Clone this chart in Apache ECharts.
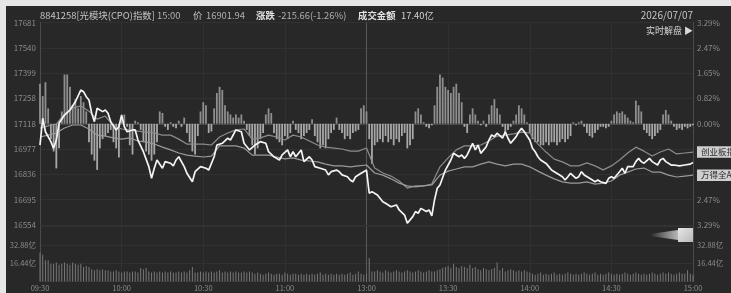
<!DOCTYPE html>
<html>
<head>
<meta charset="utf-8">
<script src="https://cdn.jsdelivr.net/npm/echarts@6/dist/echarts.min.js"></script>
<style>
  html, body { margin: 0; padding: 0; background: #e6e6e6; }
  #chart { width: 731px; height: 293px; }
</style>
</head>
<body>
<div id="chart"></div>
<script>
// 昨收与刻度
const preClose = 17117.6
const pctMax = 3.29
const pctStep = 0.8225
const pctTickLabels = ['3.29%', '2.47%', '1.65%', '0.82%', '0.00%', '', '', '2.47%', '3.29%']
const volTickLabels = ['', '16.44亿', '32.88亿', '']
const timeLabels = ['09:30', '10:00', '10:30', '11:00', '13:00', '13:30', '14:00', '14:30', '15:00']

// 指数分时 [分钟, 点位]
const pricePoints = [
  [0, 16999], [1, 17148], [2, 17073], [4, 17018], [5, 16981], [6, 17027], [7, 17120], [9, 17166],
  [11, 17194], [13, 17240], [15, 17305], [16, 17296], [17, 17268], [18, 17250], [19, 17176], [20, 17129],
  [21, 17204], [23, 17185], [24, 17194], [25, 17176], [26, 17129], [28, 17083], [29, 17101], [30, 17166],
  [31, 17101], [32, 17073], [34, 17083], [35, 17083], [36, 17027], [38, 16962], [40, 16879], [41, 16814],
  [42, 16870], [43, 16916], [45, 16870], [46, 16907], [48, 16898], [49, 16883], [50, 16916], [51, 16934],
  [53, 16879], [54, 16842], [56, 16795], [57, 16851], [59, 16879], [61, 16870], [62, 16860], [64, 16934],
  [65, 16999], [67, 17009], [69, 17037], [70, 17027], [71, 17055], [72, 17083], [74, 17073], [75, 17009],
  [77, 16972], [79, 16999], [81, 17018], [83, 17009], [84, 16962], [86, 16934], [88, 16916], [89, 16944],
  [91, 16972], [92, 16934], [93, 16962], [94, 16934], [96, 16972], [97, 16907], [99, 16934], [100, 16916],
  [101, 16879], [103, 16870], [105, 16860], [106, 16833], [107, 16851], [109, 16860], [110, 16851], [111, 16833],
  [113, 16823], [114, 16805], [115, 16795], [116, 16823], [118, 16842], [119, 16851], [120, 16860], [121, 16731],
  [122, 16740], [124, 16721], [126, 16684], [127, 16675], [129, 16656], [131, 16666], [132, 16638], [134, 16610],
  [135, 16564], [137, 16601], [138, 16629], [139, 16620], [140, 16647], [142, 16629], [143, 16638], [144, 16605],
  [145, 16694], [146, 16759], [147, 16777], [149, 16860], [151, 16916], [152, 16953], [154, 16934], [155, 16944],
  [156, 16925], [157, 16944], [159, 17009], [160, 16972], [161, 16999], [162, 16953], [164, 16990], [165, 17027],
  [166, 17055], [167, 17046], [168, 17065], [170, 17037], [171, 17073], [172, 17037], [173, 17009], [175, 17046],
  [176, 17073], [177, 17092], [178, 17073], [180, 17027], [181, 16981], [182, 16962], [183, 16934], [184, 16916],
  [186, 16897], [187, 16879], [188, 16860], [189, 16851], [191, 16833], [192, 16823], [193, 16805], [194, 16823],
  [195, 16842], [197, 16814], [198, 16823], [199, 16851], [200, 16833], [202, 16814], [203, 16805], [204, 16795],
  [205, 16805], [206, 16795], [208, 16786], [209, 16814], [210, 16823], [211, 16814], [213, 16851], [214, 16870],
  [215, 16842], [216, 16879], [218, 16879], [219, 16907], [220, 16925], [221, 16907], [222, 16898], [224, 16925],
  [225, 16907], [227, 16888], [228, 16916], [229, 16925], [230, 16907], [232, 16888], [233, 16888], [235, 16883],
  [237, 16888], [239, 16893], [240, 16902]
]

// 对比指数涨跌幅(%)，每3分钟一个点
const sampleStep = 3
const cybPct = [
  -0.14, -0.07, -0.01, 0.32, 0.51, 0.58, 0.41, 0.15, 0.25, -0.07,
  -0.17, -0.20, -0.24, -0.27, -0.30, -0.37, -0.37, -0.50, -0.66, -0.66,
  -0.66, -0.69, -0.43, -0.30, -0.20, -0.17, -0.50, -0.46, -0.37, -0.43,
  -0.53, -0.37, -0.43, -0.56, -0.69, -0.76, -0.79, -0.82, -0.89, -0.89,
  -0.79, -1.44, -1.60, -1.70, -1.86, -2.09, -2.02, -2.02, -1.96, -1.40,
  -1.11, -0.85, -0.72, -0.72, -0.69, -0.56, -0.40, -0.37, -0.33, -0.27,
  -0.30, -0.66, -0.92, -1.15, -1.24, -1.37, -1.37, -1.27, -1.37, -1.50,
  -1.37, -1.18, -0.95, -0.76, -0.89, -1.05, -0.92, -0.82, -0.98, -0.95,
  -0.92
]
const wdqaPct = [
  -0.43, -0.37, -0.30, -0.14, -0.04, -0.04, -0.17, -0.37, -0.40, -0.46,
  -0.50, -0.46, -0.56, -0.59, -0.66, -0.76, -0.85, -0.95, -1.02, -1.05,
  -1.08, -1.05, -0.72, -0.72, -0.72, -0.79, -1.02, -1.02, -1.02, -1.08,
  -1.14, -1.11, -1.18, -1.21, -1.24, -1.31, -1.37, -1.37, -1.40, -1.37,
  -1.34, -1.60, -1.67, -1.79, -1.93, -2.02, -2.05, -2.02, -1.99, -1.67,
  -1.54, -1.47, -1.40, -1.40, -1.31, -1.24, -1.31, -1.37, -1.31, -1.31,
  -1.40, -1.54, -1.67, -1.79, -1.89, -1.93, -1.93, -1.89, -1.96, -1.93,
  -1.86, -1.67, -1.57, -1.47, -1.44, -1.57, -1.57, -1.67, -1.73, -1.70,
  -1.67
]

// 每分钟强弱柱(%)
const diffBars = [
  1.3, 0.9, 1.35, 0.5, -0.5, -0.9, -1.45, -0.8, 0.4, 1.6, 1.6, 1.2, 0.6, 0.8, 0.5, 0.9, 0.7, 0.4, -0.6, -1.0,
  -1.2, -1.5, -0.8, -0.5, -0.4, -0.3, -0.2, -0.6, -0.8, -1.1, 0.2, 0.3, -0.1, -0.7, -1.0, 0.1, 0.05, -0.2, -0.6, -0.9,
  -1.0, -1.2, -1.0, -0.6, 0.4, 0.35, -0.1, -0.2, 0.05, -0.1, -0.15, 0.1, -0.1, 0.2, -0.3, -0.6, -0.9, -1.0, -0.4, 0.4,
  0.7, 0.6, -0.3, -0.25, 0.5, 1.0, 1.2, 1.1, 0.6, 0.4, 0.3, 0.2, 0.3, 0.2, 0.3, 0.1, -0.2,
  -0.4, -0.7, -1.0, -0.8, -0.5, -0.3, 0.3, 0.5, 0.35, -0.3, -0.5, -0.6, -0.7, -0.4, -0.5, -0.3, 0.1, -0.2, -0.3, -0.5,
  -0.4, -0.3, -0.2, 0.15, -0.4, -0.6, -0.8, -0.7, -0.8, -0.5, -0.3, -0.2, 0.2, -0.2, -0.3, -0.5, -0.4, -0.5, -0.3, -0.25,
  -0.2, 0.5, 0.6, 0.4,
  -0.5, -1.3, -0.7, -0.6, -0.5, -0.6, -0.4, -0.6, -0.5, -0.7,
  -0.5, -0.6, -0.4, -0.3, -0.8, -0.7, -0.5, 0.4, 0.5, 0.3,
  0.05, -0.1, -0.15, -0.05, 0.6, 1.2, 1.6, 1.5, 1.2, 1.1,
  1.0, 1.2, 1.3, 1.0, 0.7, -0.1, -0.3, 0.3, 0.5, 0.3,
  0.1, -0.05, 0.1, -0.1, 0.3, 0.6, 0.8, 0.5, 0.3, -0.1,
  -0.3, -0.2, -0.1, 0.1, 0.3, 0.6, 0.5, 0.3, 0.05, -0.3,
  -0.5, -0.6, -0.6, -0.7, -0.7, -0.6, -0.7, -0.6, -0.6, -0.7,
  -0.6, -0.5, -0.6, -0.5, -0.4, 0.05, -0.05, 0.05, 0.1, -0.1,
  -0.3, -0.4, -0.45, -0.3, -0.2, -0.1, -0.1, -0.15, -0.1, 0.1,
  0.3, 0.4, 0.35, 0.4, 0.3, 0.2, 0.1, 0.05, 0.75, 0.6,
  0.4, -0.2, -0.3, -0.4, -0.5, -0.4, -0.3, -0.2, 0.3, 0.45,
  0.3, 0.1, -0.1, -0.2, -0.15, -0.2, -0.1, -0.15, -0.1, -0.05
]

// 每分钟成交额(亿)
const volumes = [
  26, 24, 19, 19, 16, 16, 17, 15, 16, 17, 16, 15, 17, 16, 15, 16, 13, 14, 13, 11,
  10, 11, 10, 11, 10, 10, 9, 9, 10, 9, 8, 9, 9, 8, 9, 9, 8, 12, 11, 12,
  9, 8, 9, 8, 9, 8, 9, 8, 9, 8, 8, 9, 8, 9, 8, 10, 13, 8, 8, 9, 8,
  9, 8, 9, 8, 9, 10, 8, 9, 8, 9, 8, 9, 8, 8, 9, 8, 9, 8,
  7, 8, 7, 6, 7, 8, 7, 6, 7, 7, 6, 8, 7, 6, 7, 7, 6, 7,
  6, 7, 6, 7, 6, 7, 8, 6, 7, 6, 7, 6, 7, 6, 7, 6, 7, 8, 6, 7, 9, 7, 6,
  7,
  21, 9,
  9, 10, 9, 8, 10, 9, 8, 9, 10, 9, 8, 9, 10, 9, 8, 9, 10, 9, 8, 9, 10, 9, 9, 10, 11,
  12, 13, 14, 12, 16, 13, 12, 14, 13, 12, 15, 12, 13,
  11, 10, 12, 11, 10, 11, 12,
  17,
  10, 12, 9, 10, 11, 10, 9, 10, 9, 10, 9, 8,
  7, 6, 7, 8, 6, 7, 6, 7, 8, 6, 7, 6, 7, 8, 7, 6, 7, 6, 7, 8,
  7, 6, 7, 8, 6, 7, 6, 7, 8, 7, 6, 7, 6, 7, 8, 7, 6, 7, 8, 7,
  6, 7, 6, 7, 8, 7, 6, 7, 8, 7, 8, 7, 6, 7, 8, 7, 7, 10, 7, 6
]

const chart = echarts.init(document.getElementById('chart'))
const font = 'Noto Sans CJK SC, Noto Sans, sans-serif'
const gridColor = '#313131'
const labelColor = '#8a8a8a'

// 顶部信息栏文字
function headText (x, y, text, color, weight, align, size) {
  return {
    type: 'text', x: x, y: y,
    style: {
      text: text, fill: color,
      font: (weight || 'normal') + ' ' + (size || 9.4) + 'px ' + font,
      textAlign: align || 'left', textVerticalAlign: 'middle'
    }
  }
}

const option = {
  backgroundColor: '#282828',
  animation: false,
  grid: [
    { left: 40, right: 38, top: 22.5, height: 202.5 },
    { left: 40, right: 38, top: 226.5, height: 55 }
  ],
  xAxis: [
    {
      type: 'value', gridIndex: 0, min: 0, max: 240, interval: 30,
      axisLabel: { show: false }, axisTick: { show: false },
      axisLine: { show: true, lineStyle: { color: '#4a4a4a' } },
      splitLine: { lineStyle: { color: [gridColor, gridColor, gridColor, gridColor, '#5a5a5a', gridColor, gridColor, gridColor, gridColor] } }
    },
    {
      type: 'value', gridIndex: 1, min: 0, max: 240, interval: 30,
      axisTick: { show: false },
      axisLine: { show: false },
      axisLabel: {
        color: labelColor, fontSize: 7.5, fontFamily: font, margin: 3,
        formatter: v => timeLabels[Math.round(v / 30)]
      },
      splitLine: { lineStyle: { color: [gridColor, gridColor, gridColor, gridColor, '#5a5a5a', gridColor, gridColor, gridColor, gridColor] } }
    }
  ],
  yAxis: [
    {
      type: 'value', gridIndex: 0, position: 'left', min: -pctMax, max: pctMax, interval: pctStep,
      axisLine: { show: true, lineStyle: { color: '#4a4a4a' } }, axisTick: { show: false },
      axisLabel: {
        color: labelColor, fontSize: 8, fontFamily: font, margin: 4,
        formatter: v => String(Math.round(preClose * (1 + v / 100)))
      },
      splitLine: { lineStyle: { color: gridColor } }
    },
    {
      type: 'value', gridIndex: 0, position: 'right', min: -pctMax, max: pctMax, interval: pctStep,
      axisLine: { show: true, lineStyle: { color: '#4a4a4a' } }, axisTick: { show: false },
      axisLabel: {
        color: labelColor, fontSize: 8, fontFamily: font, margin: 4,
        formatter: v => pctTickLabels[Math.round((pctMax - v) / pctStep)]
      },
      splitLine: { show: false }
    },
    {
      type: 'value', gridIndex: 0, show: false,
      min: preClose * (1 - pctMax / 100), max: preClose * (1 + pctMax / 100)
    },
    {
      type: 'value', gridIndex: 1, position: 'left', min: 0, max: 49.32, interval: 16.44,
      axisLine: { show: true, lineStyle: { color: '#4a4a4a' } }, axisTick: { show: false },
      axisLabel: {
        color: labelColor, fontSize: 7.5, fontFamily: font, margin: 4,
        formatter: v => volTickLabels[Math.round(v / 16.44)]
      },
      splitLine: { lineStyle: { color: gridColor } }
    },
    {
      type: 'value', gridIndex: 1, position: 'right', min: 0, max: 49.32, interval: 16.44,
      axisLine: { show: true, lineStyle: { color: '#4a4a4a' } }, axisTick: { show: false },
      axisLabel: {
        color: labelColor, fontSize: 7.5, fontFamily: font, margin: 4,
        formatter: v => volTickLabels[Math.round(v / 16.44)]
      },
      splitLine: { show: false }
    }
  ],
  series: [
    {
      name: '强弱', type: 'bar', xAxisIndex: 0, yAxisIndex: 1, barWidth: 1.8,
      data: diffBars.map((v, i) => ({
        value: [i, v],
        itemStyle: { color: v >= 0 ? '#8f8f8f' : '#a8a8a8' }
      }))
    },
    {
      name: '创业板指', type: 'line', xAxisIndex: 0, yAxisIndex: 1, symbol: 'none',
      lineStyle: { color: '#8c8c8c', width: 1.2 },
      data: cybPct.map((v, i) => [i * sampleStep, v]),
      endLabel: {
        show: true, formatter: '创业板指', color: '#2a2a2a', fontSize: 8.5, fontFamily: font,
        backgroundColor: '#cfcfcf', padding: [2, 3, 1, 4], distance: 4
      }
    },
    {
      name: '万得全A', type: 'line', xAxisIndex: 0, yAxisIndex: 1, symbol: 'none',
      lineStyle: { color: '#9a9a9a', width: 1.2 },
      data: wdqaPct.map((v, i) => [i * sampleStep, v]),
      endLabel: {
        show: true, formatter: '万得全A', color: '#2a2a2a', fontSize: 8.5, fontFamily: font,
        backgroundColor: '#cfcfcf', padding: [2, 3, 1, 4], distance: 4
      }
    },
    {
      name: '光模块(CPO)', type: 'line', xAxisIndex: 0, yAxisIndex: 2, symbol: 'none',
      lineStyle: { color: '#f4f4f4', width: 1.7 },
      data: pricePoints
    },
    {
      name: '成交额', type: 'bar', xAxisIndex: 1, yAxisIndex: 3, barWidth: 1,
      itemStyle: { color: '#787878' },
      data: volumes.map((v, i) => [i, v])
    }
  ],
  graphic: [
    { type: 'rect', shape: { x: 0, y: 0, width: 731, height: 6 }, style: { fill: '#e6e6e6' } },
    { type: 'rect', shape: { x: 0, y: 0, width: 6, height: 293 }, style: { fill: '#e6e6e6' } },
    headText(40, 15, '8841258[光模块(CPO)指数]', '#c4c4c4'),
    headText(157, 15, '15:00', '#b0b0b0'),
    headText(193, 15, '价', '#c4c4c4'),
    headText(206, 15, '16901.94', '#b0b0b0'),
    headText(256, 15, '涨跌', '#e0e0e0', 'bold'),
    headText(278, 15, '-215.66(-1.26%)', '#b0b0b0'),
    headText(358, 15, '成交金额', '#e0e0e0', 'bold'),
    headText(401, 15, '17.40亿', '#d0d0d0'),
    headText(693, 15, '2026/07/07', '#c4c4c4', 'normal', 'right', 10),
    headText(693, 31, '实时解盘 ▶', '#d8d8d8', 'normal', 'right', 9),
    {
      type: 'polygon',
      shape: { points: [[650, 234], [678, 230], [678, 240], [650, 236]] },
      style: {
        fill: new echarts.graphic.LinearGradient(0, 0, 1, 0, [
          { offset: 0, color: 'rgba(255,255,255,0)' },
          { offset: 1, color: 'rgba(230,230,230,0.75)' }
        ])
      }
    },
    {
      type: 'rect', shape: { x: 678, y: 228, width: 15, height: 14 },
      style: {
        fill: new echarts.graphic.LinearGradient(0, 0, 1, 1, [
          { offset: 0, color: '#e8e8e8' },
          { offset: 1, color: '#b8b8b8' }
        ])
      }
    }
  ]
}

chart.setOption(option)
</script>
</body>
</html>
